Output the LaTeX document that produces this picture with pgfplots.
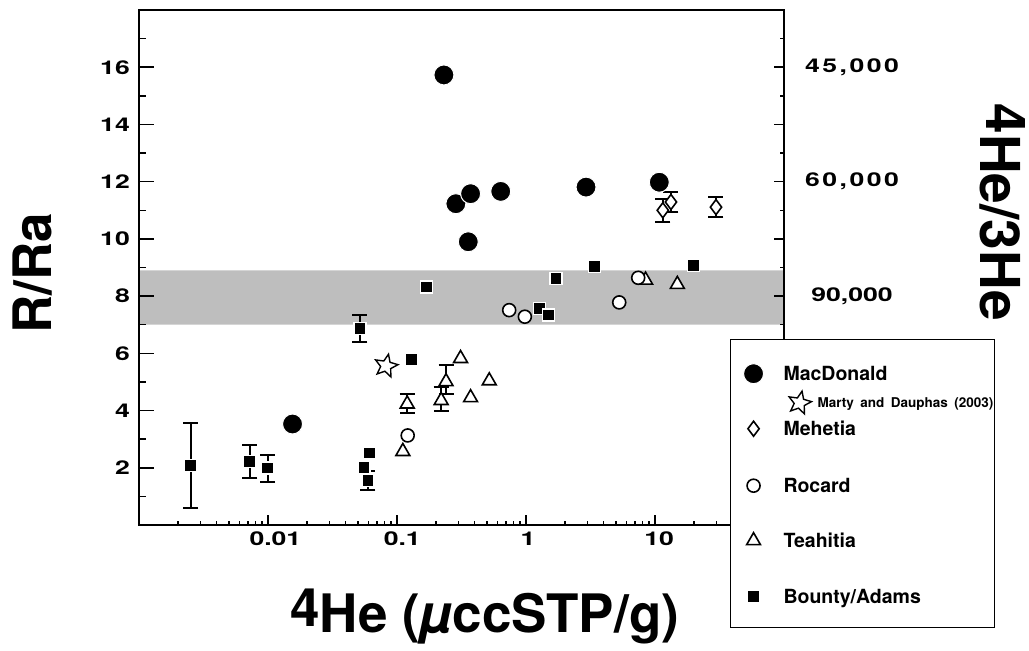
\documentclass[border=0pt]{standalone}
\usepackage{fontspec}
\setmainfont{TeX Gyre Heros}
\newfontfamily\tickn{TeX Gyre Heros}
\newfontfamily\tickf{TeX Gyre Heros}[FakeStretch=1.4]
\usepackage{pgfplots}
\pgfplotsset{compat=1.18}
\usetikzlibrary{plotmarks}

\definecolor{band}{RGB}{190,190,190}

% open five-point star
\pgfdeclareplotmark{ostar}{%
  \pgfpathmoveto{\pgfpointpolar{90}{\pgfplotmarksize}}%
  \pgfpathlineto{\pgfpointpolar{126}{0.45\pgfplotmarksize}}%
  \pgfpathlineto{\pgfpointpolar{162}{\pgfplotmarksize}}%
  \pgfpathlineto{\pgfpointpolar{198}{0.45\pgfplotmarksize}}%
  \pgfpathlineto{\pgfpointpolar{234}{\pgfplotmarksize}}%
  \pgfpathlineto{\pgfpointpolar{270}{0.45\pgfplotmarksize}}%
  \pgfpathlineto{\pgfpointpolar{306}{\pgfplotmarksize}}%
  \pgfpathlineto{\pgfpointpolar{342}{0.45\pgfplotmarksize}}%
  \pgfpathlineto{\pgfpointpolar{18}{\pgfplotmarksize}}%
  \pgfpathlineto{\pgfpointpolar{54}{0.45\pgfplotmarksize}}%
  \pgfpathclose
  \pgfusepathqfillstroke}

\newcommand\tksize{\fontsize{19bp}{20bp}\selectfont}
\newcommand\bigfont{\fontsize{53bp}{60bp}\selectfont\bfseries}
\newcommand\tk[1]{\setbox0\hbox{\tickn\bfseries #1}\makebox[\wd0][l]{\tickf\bfseries #1}}
\newcommand\lsp{\kern2.5bp}
\newcommand\lstrut[2]{\rule[-#2bp]{0pt}{\dimexpr#1bp+#2bp\relax}}

\pgfplotsset{
  macd/.style={only marks, mark=*, mark size=10bp,
    mark options={fill=black, draw=white, line width=1bp}},
  mehe/.style={only marks, mark=diamond*, mark size=7.5bp,
    mark options={fill=white, draw=black, line width=1.6bp}},
  roca/.style={only marks, mark=*, mark size=6.5bp,
    mark options={fill=white, draw=black, line width=1.6bp}},
  teah/.style={only marks, mark=triangle*, mark size=8bp,
    mark options={fill=white, draw=black, line width=1.6bp}},
  boun/.style={only marks, mark=square*, mark size=6bp,
    mark options={fill=black, draw=white, line width=1.2bp}},
  mart/.style={only marks, mark=ostar, mark size=12bp,
    mark options={fill=white, draw=black, line width=1.4bp, rotate=-12}},
  ebars/.style={error bars/.cd, y dir=both, y explicit,
    error bar style={black, line width=2bp},
    error mark options={rotate=90, black, mark size=7.5bp, line width=2bp}},
  legmark/.style={legend image code/.code={%
    \path[draw=none] (-23bp,0) -- (30bp,0);
    \draw[##1,overlay] plot coordinates {(0bp,7bp)};}},
  legstar/.style={legend image code/.code={%
    \path[draw=none] (-23bp,0) -- (30bp,0);
    \draw[##1,overlay] plot coordinates {(46bp,4.8bp)};}},
  frame/.style={scale only axis, width=645bp, height=515bp,
    axis line style={line width=1.5bp},
    tick style={line width=1.5bp, black}},
}

\begin{document}
\begin{tikzpicture}

% data, box and x ticks
\begin{axis}[
  frame,
  xmode=log, xmin=1e-3, xmax=100,
  ymin=0, ymax=18,
  major tick length=10bp, minor tick length=4bp,
  xtick={0.01,0.1,1,10},
  xticklabels={\tk{0.01},\tk{0.1},\tk{1},\tk{10}},
  minor xtick={0.002,0.003,0.004,0.005,0.006,0.007,0.008,0.009,
    0.02,0.03,0.04,0.05,0.06,0.07,0.08,0.09,
    0.2,0.3,0.4,0.5,0.6,0.7,0.8,0.9,
    2,3,4,5,6,7,8,9,20,30,40,50,60,70,80,90},
  xtick pos=left,
  ytick=\empty,
  xticklabel style={font=\tksize, anchor=north, inner sep=0pt, yshift=-7bp},
  xlabel={\raisebox{6bp}{4}He (\textit{µ}ccSTP/g)},
  every axis x label/.style={font=\bigfont,
    at={(axis description cs:0.536,0)}, anchor=base, yshift=-107bp},
]
\addplot[fill=band, draw=none] coordinates {(0.001,7) (100,7) (100,8.9) (0.001,8.9) (0.001,7)};

% Teahitia
\addplot[teah] coordinates {(8.45,8.56) (14.9,8.41) (0.311,5.82) (0.519,5.04) (0.372,4.45) (0.111,2.57)};
\addplot[teah, ebars] coordinates {
  (0.24,5.01) += (0,0.58) -= (0,0.44)
  (0.22,4.35) += (0,0.46) -= (0,0.35)
  (0.120,4.23) += (0,0.35) -= (0,0.33)
};

% Rocard
\addplot[roca] coordinates {(0.741,7.51) (0.98,7.28) (5.28,7.78) (7.41,8.64) (0.121,3.13)};

% Bounty/Adams
\addplot[boun, ebars] coordinates {
  (0.00251,2.08) +- (0,1.5)
  (0.00724,2.23) +- (0,0.58)
  (0.00995,1.99) +- (0,0.47)
  (0.0516,6.87) +- (0,0.47)
  (0.0595,1.55) +- (0,0.32)
};
\addplot[boun] coordinates {(0.0555,2.0) (0.061,2.52) (0.130,5.79) (0.169,8.32)
  (1.71,8.62) (3.38,9.04) (19.8,9.06) (1.28,7.57) (1.5,7.34)};

% MacDonald
\addplot[macd] coordinates {(0.231,15.73) (0.286,11.23) (0.372,11.58) (0.357,9.9)
  (0.637,11.66) (2.92,11.81) (10.8,11.98) (0.0155,3.53)};

% Mehetia
\addplot[mehe, ebars] coordinates {
  (11.5,11.0) +- (0,0.41)
  (13.3,11.29) +- (0,0.36)
  (29.7,11.11) +- (0,0.36)
};

% Marty and Dauphas (2003)
\addplot[mart] coordinates {(0.0822,5.56)};
\end{axis}

% left R/Ra axis
\begin{axis}[
  frame,
  xmin=0, xmax=1, ymin=0, ymax=18,
  axis x line=none, axis y line*=left,
  major tick length=15bp, minor tick length=7bp,
  ytick={2,4,...,16}, minor ytick={1,3,...,17},
  yticklabels={2,4,6,8,10,12,14,16},
  yticklabel style={font=\tksize\tickf\bfseries, anchor=east, inner sep=0pt, xshift=-9bp},
  ylabel={R/Ra},
  every axis y label/.style={font=\bigfont,
    at={([xshift=-87bp]axis description cs:0,0.489)}, anchor=base, rotate=90},
]
\end{axis}

% right 4He/3He axis and legend
\begin{axis}[
  frame,
  xmin=0, xmax=1, ymin=0, ymax=18,
  axis x line=none, axis y line*=right,
  major tick length=10bp, minor tick length=4bp,
  ytick={2,4,...,16}, minor ytick={1,3,...,17},
  yticklabels={,,,{90,000},,{6\lsp0\lsp,\lsp0\lsp0\lsp0},,{4\lsp5\lsp,\lsp0\lsp0\lsp0}},
  yticklabel style={font=\tksize\tickf\bfseries, anchor=center, inner sep=0pt, xshift=68bp},
  ylabel={\raisebox{6bp}{4}He/3He},
  every axis y label/.style={font=\fontsize{55bp}{60bp}\selectfont\bfseries,
    at={([xshift=196bp]axis description cs:1,0.6075)}, anchor=base, rotate=-90},
  legend style={at={(axis description cs:0.9162,0.361)}, anchor=north west,
    draw=black, line width=1.2bp, fill=white,
    inner sep=0pt, row sep=0pt, column sep=0pt,
    font=\fontsize{19.5bp}{20bp}\selectfont\bfseries,
    nodes={inner sep=0pt, text depth={}},
    cells={anchor=base west, text width=211bp, align=left}},
]
\addlegendimage{macd, legmark}
\addlegendentry{\lstrut{41}{5}MacDonald}
\addlegendimage{mart, legstar}
\addlegendentry{\lstrut{22}{4}\hspace*{34bp}{\fontsize{13.5bp}{14bp}\selectfont Marty and Dauphas (2003)}}
\addlegendimage{mehe, legmark}
\addlegendentry{\lstrut{24}{5}Mehetia}
\addlegendimage{roca, legmark}
\addlegendentry{\lstrut{52}{5}Rocard}
\addlegendimage{teah, legmark}
\addlegendentry{\lstrut{50}{5}Teahitia}
\addlegendimage{boun, legmark}
\addlegendentry{\lstrut{51}{24}Bounty/Adams}
\end{axis}

\pgfresetboundingbox
\path (-139bp,-126bp) rectangle (890bp,525bp);
\end{tikzpicture}
\end{document}
